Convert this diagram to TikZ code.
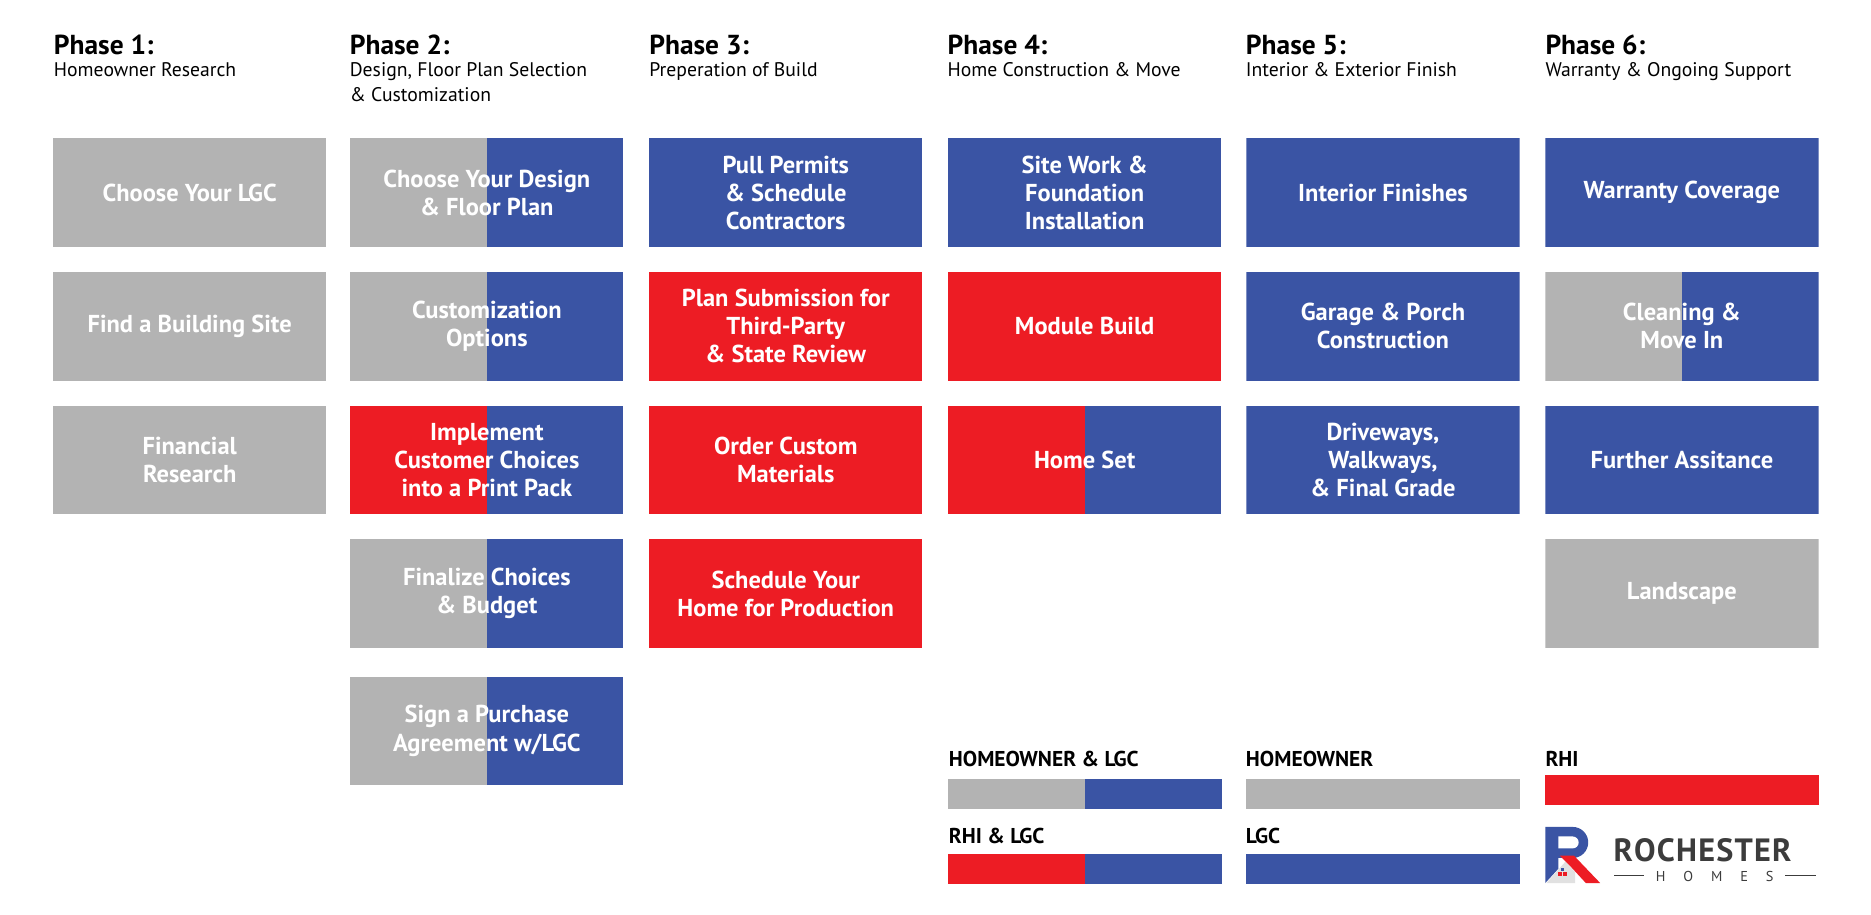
\documentclass[tikz,border=0pt]{standalone}
\usepackage{fontspec}
\setmainfont{PT Sans}
\definecolor{cg}{HTML}{B3B3B3}
\definecolor{cb}{HTML}{3A54A4}
\definecolor{cr}{HTML}{ED1C24}
\definecolor{cd}{HTML}{3C3C3C}
\begin{document}
\begin{tikzpicture}[x=1pt,y=-1pt,
  stepbox/.style 2 args={minimum width=229pt,minimum height=91pt,inner sep=0pt,align=center,text=white,
    font=\fontsize{20.5}{23.5}\selectfont\bfseries,
    path picture={\fill[#1] (path picture bounding box.south west) rectangle (path picture bounding box.north);
      \fill[#2] (path picture bounding box.north) rectangle (path picture bounding box.south east);}},
  phase/.style={anchor=base west,inner sep=0pt,font=\fontsize{23}{26}\selectfont\bfseries},
  sub/.style={anchor=north west,inner sep=0pt,align=left,font=\fontsize{16.5}{21}\selectfont},
  leg/.style={anchor=base west,inner sep=0pt,font=\fontsize{18}{20}\selectfont\bfseries},
  bar/.style 2 args={minimum width=230pt,minimum height=25pt,inner sep=0pt,
    path picture={\fill[#1] (path picture bounding box.south west) rectangle (path picture bounding box.north);
      \fill[#2] (path picture bounding box.north) rectangle (path picture bounding box.south east);}}]
\useasboundingbox[fill=white] (0,0) rectangle (1568,766);
% headings
\foreach \n/\x/\t in {1/45/{Homeowner Research},2/293/{Design, Floor Plan Selection\\\& Customization},3/544/{Preperation of Build},4/794/{Home Construction \& Move},5/1044/{Interior \& Exterior Finish},6/1295/{Warranty \& Ongoing Support}}{
  \node[phase] (ph\n) at (\x,46) {Phase \n:};
  \node[sub] (sb\n) at (\x,52) {\t};
}
% column 1
\node[stepbox={cg}{cg}] (a1) at (159,161.5) {Choose Your LGC};
\node[stepbox={cg}{cg}] (a2) at (159,273.5) {Find a Building Site};
\node[stepbox={cg}{cg}] (a3) at (159,385.5) {Financial\\Research};
% column 2
\node[stepbox={cg}{cb}] (b1) at (408,161.5) {Choose Your Design\\\& Floor Plan};
\node[stepbox={cg}{cb}] (b2) at (408,273.5) {Customization\\Options};
\node[stepbox={cr}{cb}] (b3) at (408,385.5) {Implement\\Customer Choices\\into a Print Pack};
\node[stepbox={cg}{cb}] (b4) at (408,497.5) {Finalize Choices\\\& Budget};
\node[stepbox={cg}{cb}] (b5) at (408,612.5) {Sign a Purchase\\Agreement w/LGC};
% column 3
\node[stepbox={cb}{cb}] (c1) at (658.5,161.5) {Pull Permits\\\& Schedule\\Contractors};
\node[stepbox={cr}{cr}] (c2) at (658.5,273.5) {Plan Submission for\\Third-Party\\\& State Review};
\node[stepbox={cr}{cr}] (c3) at (658.5,385.5) {Order Custom\\Materials};
\node[stepbox={cr}{cr}] (c4) at (658.5,497.5) {Schedule Your\\Home for Production};
% column 4
\node[stepbox={cb}{cb}] (d1) at (909,161.5) {Site Work \&\\Foundation\\Installation};
\node[stepbox={cr}{cr}] (d2) at (909,273.5) {Module Build};
\node[stepbox={cr}{cb}] (d3) at (909,385.5) {Home Set};
% column 5
\node[stepbox={cb}{cb}] (e1) at (1159,161.5) {Interior Finishes};
\node[stepbox={cb}{cb}] (e2) at (1159,273.5) {Garage \& Porch\\Construction};
\node[stepbox={cb}{cb}] (e3) at (1159,385.5) {Driveways,\\Walkways,\\\& Final Grade};
% column 6
\node[stepbox={cb}{cb}] (f1) at (1409.5,161.5) {Warranty Coverage};
\node[stepbox={cg}{cb}] (f2) at (1409.5,273.5) {Cleaning \&\\Move In};
\node[stepbox={cb}{cb}] (f3) at (1409.5,385.5) {Further Assitance};
\node[stepbox={cg}{cg}] (f4) at (1409.5,497.5) {Landscape};
% legend
\node[leg] (l1) at (795,642) {HOMEOWNER \& LGC};
\node[bar={cg}{cb}] (lb1) at (909.5,665.5) {};
\node[leg] (l2) at (795,707) {RHI \& LGC};
\node[bar={cr}{cb}] (lb2) at (909.5,728.5) {};
\node[leg] (l3) at (1044,642) {HOMEOWNER};
\node[bar={cg}{cg}] (lb3) at (1159,665.5) {};
\node[leg] (l4) at (1044,707) {LGC};
\node[bar={cb}{cb}] (lb4) at (1159,728.5) {};
\node[leg] (l5) at (1295,642) {RHI};
\node[bar={cr}{cr}] (lb5) at (1409.5,662) {};
% logo
\fill[cb] (1295,693) -- (1318,693) arc[start angle=-90,end angle=90,radius=13] -- (1306,719) -- (1306,728) -- (1295,740) -- cycle;
\fill[white] (1306,701) -- (1318,701) arc[start angle=-90,end angle=90,radius=5] -- (1306,711) -- cycle;
\fill[cg!40] (1296,740) -- (1312,722) -- (1320,731) -- (1320,740) -- cycle;
\fill[cr] (1307,717) -- (1319,717) -- (1341,740) -- (1329,740) -- (1317,727) -- cycle;
\fill[cr] (1306,731) rectangle (1309,734);
\fill[cr] (1310,731) rectangle (1313,734);
\fill[cb] (1308,727) rectangle (1311,730);
\node[anchor=base west,inner sep=0pt,text=cd,font=\fontsize{27}{27}\selectfont\bfseries] (logo) at (1352,722) {R\kern1ptO\kern1ptC\kern1ptH\kern1ptE\kern1ptS\kern1ptT\kern1ptE\kern1ptR};
\node[anchor=base,inner sep=0pt,text=cd,font=\fontsize{12}{12}\selectfont] (homes) at (1437,739) {H\hspace{15pt}O\hspace{15pt}M\hspace{15pt}E\hspace{15pt}S};
\draw[cd,line width=1pt] (1353,734) -- (1378,734) (1496,734) -- (1522,734);
\end{tikzpicture}
\end{document}
